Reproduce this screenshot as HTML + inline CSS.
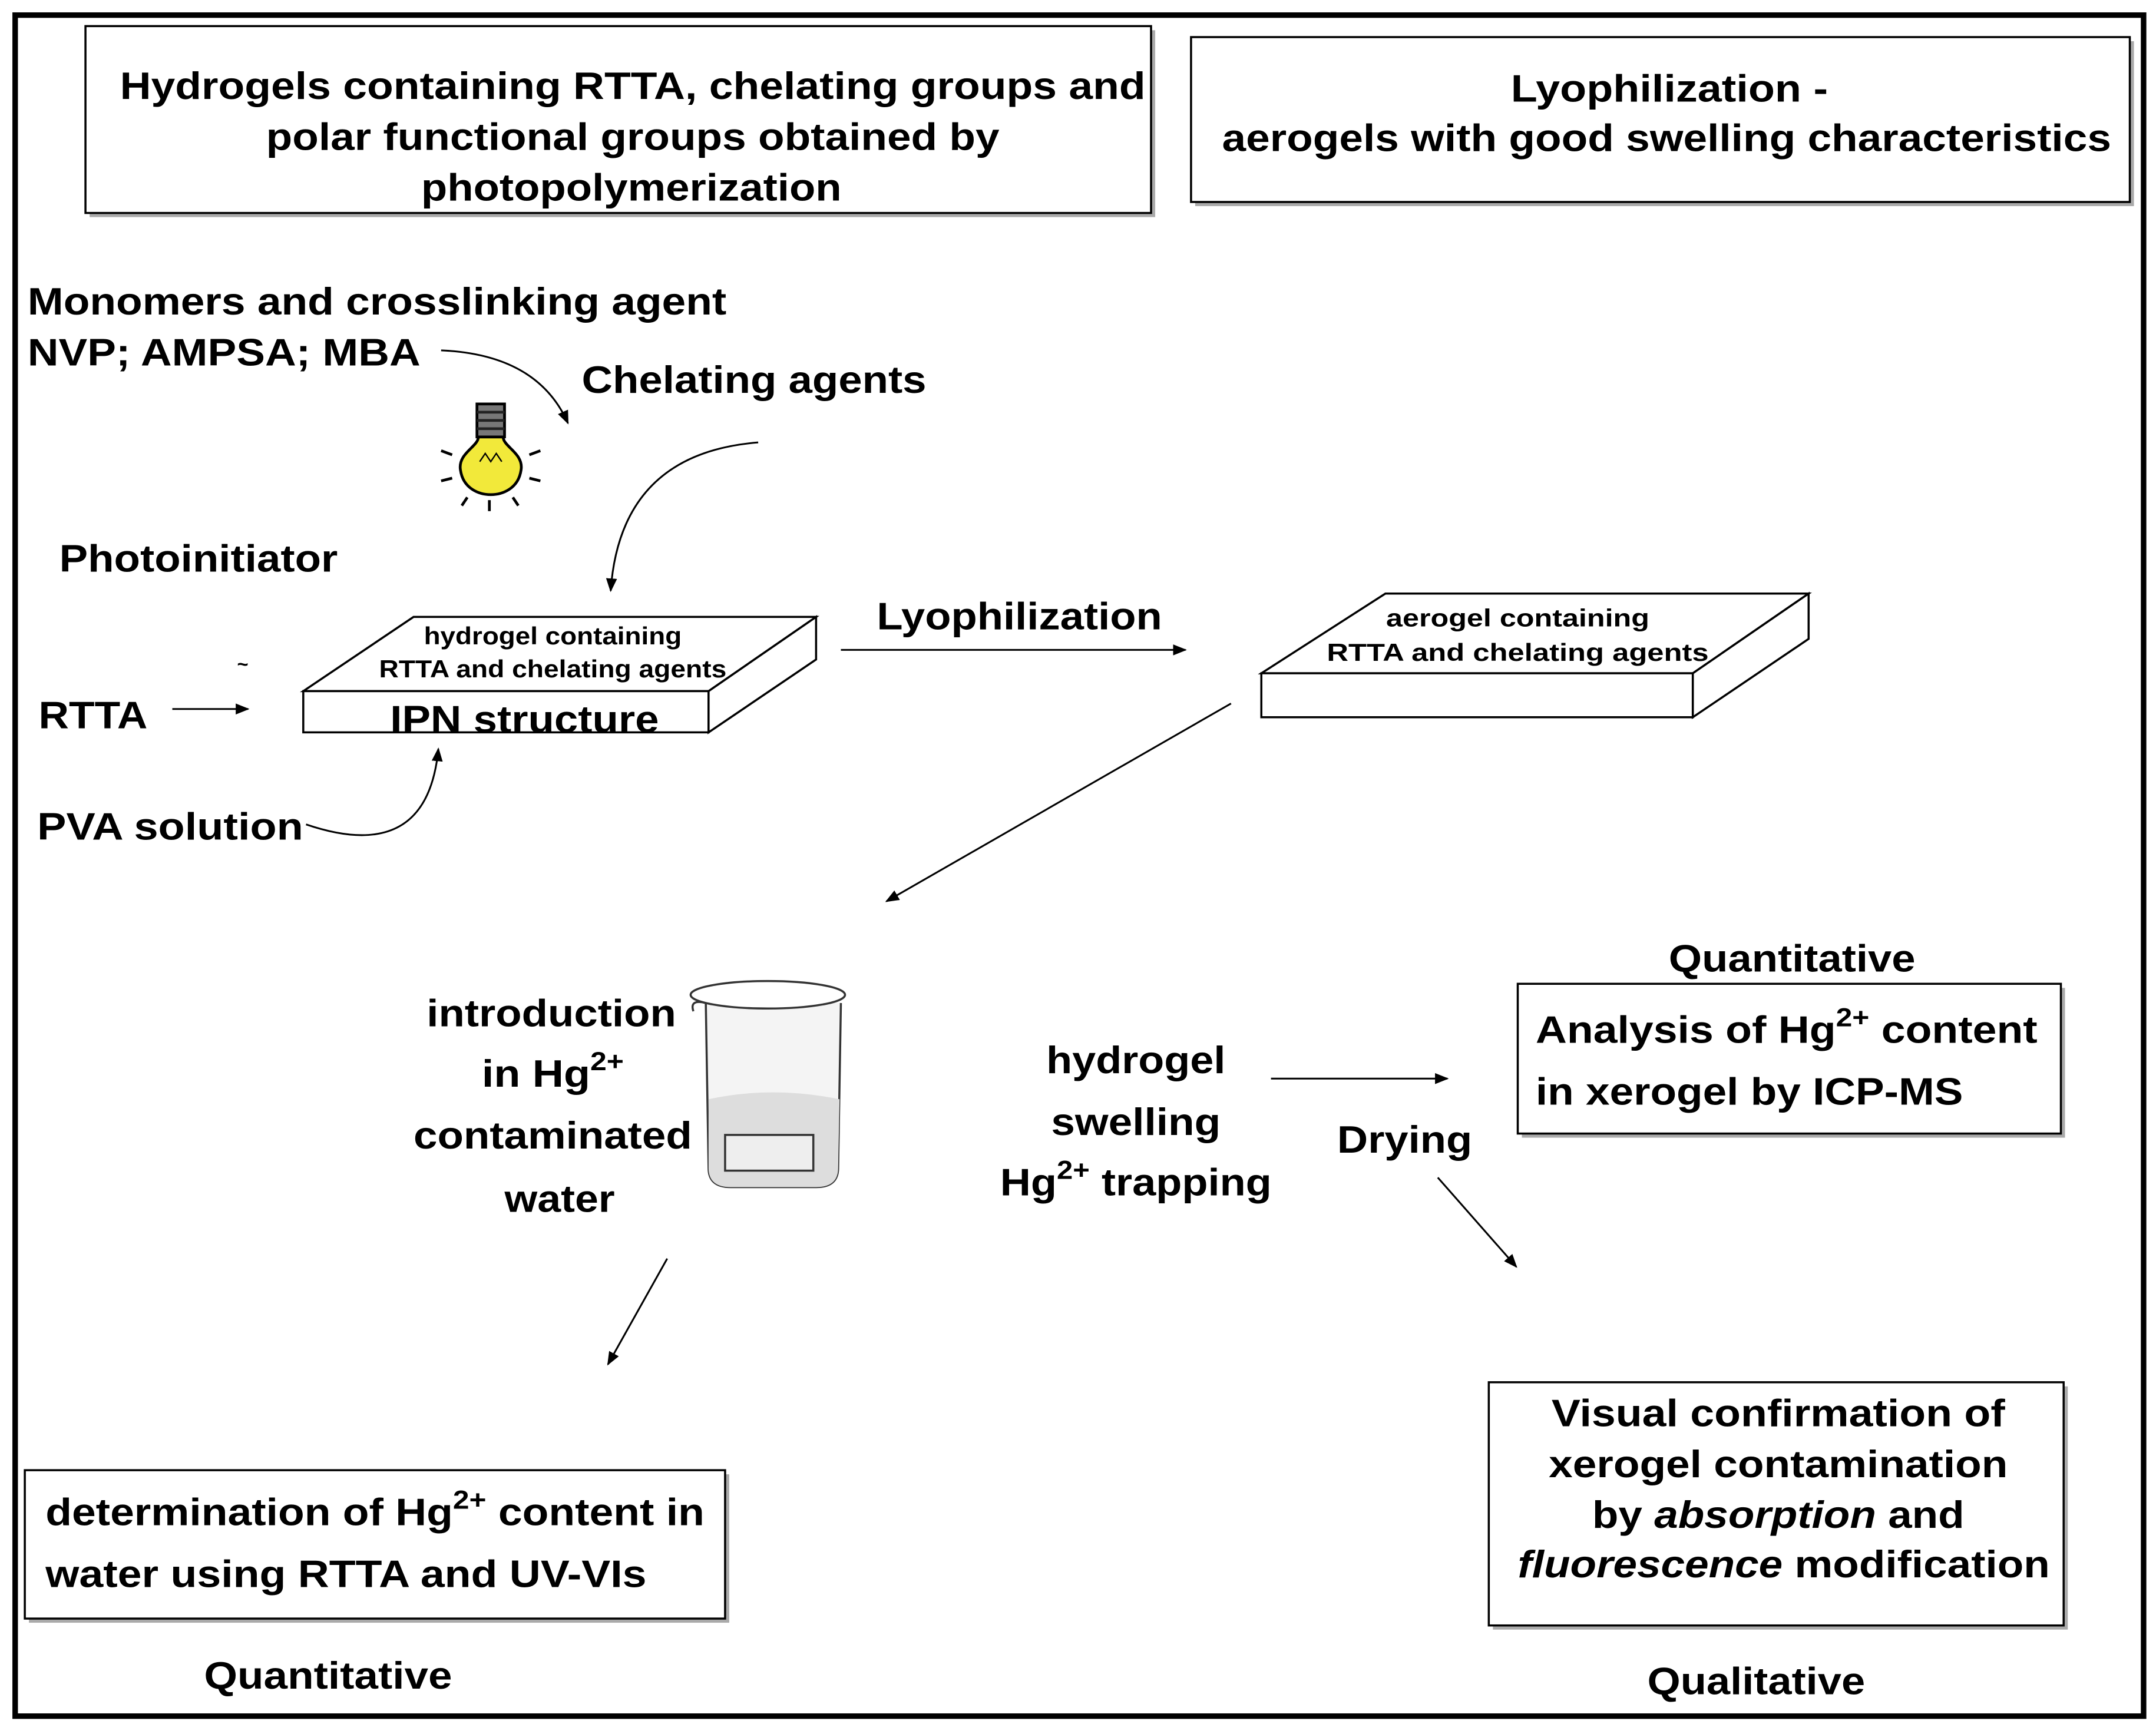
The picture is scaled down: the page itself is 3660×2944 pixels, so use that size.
<!DOCTYPE html>
<html><head><meta charset="utf-8">
<style>
html,body{margin:0;padding:0;background:#fff;}
svg{display:block;}
text{font-family:"Liberation Sans",Arial,sans-serif;font-weight:bold;fill:#000;}
</style></head>
<body>
<svg width="3660" height="2944" viewBox="0 0 1564 1262" preserveAspectRatio="none" xmlns="http://www.w3.org/2000/svg">
<defs>
<marker id="ah" markerWidth="10" markerHeight="8" refX="9" refY="4" orient="auto" markerUnits="userSpaceOnUse">
<path d="M0,0 L10,4 L0,8 Z" fill="#000"/>
</marker>
</defs>
<rect x="0" y="0" width="1564" height="1262" fill="#fff"/>
<rect x="11" y="11" width="1544" height="1238" fill="none" stroke="#000" stroke-width="4"/>

<!-- Box 1 -->
<rect x="65" y="22" width="773" height="136" fill="#aaa"/>
<rect x="62" y="19" width="773" height="136" fill="#fff" stroke="#000" stroke-width="1.5"/>
<g font-size="28" text-anchor="middle" lengthAdjust="spacingAndGlyphs">
<text x="459" y="72" textLength="744" lengthAdjust="spacingAndGlyphs">Hydrogels containing RTTA, chelating groups and</text>
<text x="459" y="109" textLength="532" lengthAdjust="spacingAndGlyphs">polar functional groups obtained by</text>
<text x="458" y="146" textLength="305" lengthAdjust="spacingAndGlyphs">photopolymerization</text>
</g>
<!-- Box 2 -->
<rect x="867" y="30" width="681" height="120" fill="#aaa"/>
<rect x="864" y="27" width="681" height="120" fill="#fff" stroke="#000" stroke-width="1.5"/>
<g font-size="28" text-anchor="middle">
<text x="1211" y="74" textLength="230" lengthAdjust="spacingAndGlyphs">Lyophilization -</text>
<text x="1209" y="110" textLength="645" lengthAdjust="spacingAndGlyphs">aerogels with good swelling characteristics</text>
</g>

<g font-size="28">
<text x="20" y="229" textLength="507" lengthAdjust="spacingAndGlyphs">Monomers and crosslinking agent</text>
<text x="20" y="266" textLength="285" lengthAdjust="spacingAndGlyphs">NVP; AMPSA; MBA</text>
<text x="422" y="286" textLength="250" lengthAdjust="spacingAndGlyphs">Chelating agents</text>
<text x="43" y="416" textLength="202" lengthAdjust="spacingAndGlyphs">Photoinitiator</text>
<text x="28" y="530" textLength="79" lengthAdjust="spacingAndGlyphs">RTTA</text>
<text x="27" y="611" textLength="193" lengthAdjust="spacingAndGlyphs">PVA solution</text>
<text x="636" y="458" textLength="207" lengthAdjust="spacingAndGlyphs">Lyophilization</text>
<text x="970" y="839" textLength="98" lengthAdjust="spacingAndGlyphs">Drying</text>
</g>
<path d="M320,255 Q390,258 412,308" fill="none" stroke="#000" stroke-width="1.3" marker-end="url(#ah)"/>
<path d="M550,322 Q450,330 443,430" fill="none" stroke="#000" stroke-width="1.3" marker-end="url(#ah)"/>
<path d="M222,600 Q310,630 318,545" fill="none" stroke="#000" stroke-width="1.3" marker-end="url(#ah)"/>
<line x1="125" y1="516" x2="180" y2="516" stroke="#000" stroke-width="1.3" marker-end="url(#ah)"/>
<text x="172" y="488" font-size="14">~</text>
<line x1="610" y1="473" x2="860" y2="473" stroke="#000" stroke-width="1.3" marker-end="url(#ah)"/>
<line x1="893" y1="512" x2="643" y2="656" stroke="#000" stroke-width="1.3" marker-end="url(#ah)"/>
<line x1="922" y1="785" x2="1050" y2="785" stroke="#000" stroke-width="1.3" marker-end="url(#ah)"/>
<line x1="1043" y1="857" x2="1100" y2="922" stroke="#000" stroke-width="1.3" marker-end="url(#ah)"/>
<line x1="484" y1="916" x2="441" y2="993" stroke="#000" stroke-width="1.3" marker-end="url(#ah)"/>

<!-- bulb -->
<g stroke="#000" stroke-width="2" fill="none">
<path d="M347,318 C347,325 332,330 334,342 C336,356 348,360 356,360 C364,360 376,356 378,342 C380,330 365,325 365,318 Z" fill="#f2e93a"/>
<rect x="346" y="294" width="20" height="24" fill="#777"/>
<line x1="346" y1="300" x2="366" y2="300" stroke="#222"/>
<line x1="346" y1="306" x2="366" y2="306" stroke="#222"/>
<line x1="346" y1="312" x2="366" y2="312" stroke="#222"/>
<path d="M348,336 l4,-6 l4,6 l4,-6 l4,6" stroke-width="1"/>
<line x1="320" y1="328" x2="328" y2="331"/><line x1="392" y1="328" x2="384" y2="331"/>
<line x1="320" y1="350" x2="328" y2="348"/><line x1="392" y1="350" x2="384" y2="348"/>
<line x1="335" y1="368" x2="339" y2="362"/><line x1="376" y1="368" x2="372" y2="362"/>
<line x1="355" y1="372" x2="355" y2="364"/>
</g>

<!-- slab 1 -->
<g stroke="#000" stroke-width="1.5" fill="#fff">
<polygon points="220,503 300,449 592,449 514,503"/>
<rect x="220" y="503" width="294" height="30"/>
<polygon points="514,503 592,449 592,480 514,533"/>
</g>
<g font-size="18" text-anchor="middle">
<text x="401" y="469" textLength="187" lengthAdjust="spacingAndGlyphs">hydrogel containing</text>
<text x="401" y="493" textLength="252" lengthAdjust="spacingAndGlyphs">RTTA and chelating agents</text>
</g>
<text x="283" y="533" font-size="28" textLength="195" lengthAdjust="spacingAndGlyphs">IPN structure</text>

<!-- slab 2 -->
<g stroke="#000" stroke-width="1.5" fill="#fff">
<polygon points="915,490 1005,432 1312,432 1228,490"/>
<rect x="915" y="490" width="313" height="32"/>
<polygon points="1228,490 1312,432 1312,465 1228,522"/>
</g>
<g font-size="18" text-anchor="middle">
<text x="1101" y="456" textLength="191" lengthAdjust="spacingAndGlyphs">aerogel containing</text>
<text x="1101" y="481" textLength="277" lengthAdjust="spacingAndGlyphs">RTTA and chelating agents</text>
</g>

<!-- beaker -->
<g stroke="#333" stroke-width="1.5">
<path d="M512,730 L514,850 Q514,864 530,864 L592,864 Q608,864 608,850 L610,730" fill="#f4f4f4"/>
<path d="M514,800 L514,850 Q514,864 530,864 L592,864 Q608,864 608,850 L609,800 Q560,790 514,800Z" fill="#ddd" stroke="none"/>
<ellipse cx="557" cy="724" rx="56" ry="10" fill="#fff"/>
<path d="M503,736 Q500,727 512,730" fill="none"/>
<rect x="526" y="826" width="64" height="26" fill="#eee"/>
</g>
<g font-size="28" text-anchor="middle">
<text x="400" y="747" textLength="181" lengthAdjust="spacingAndGlyphs">introduction</text>
<text x="401" y="791" textLength="103" lengthAdjust="spacingAndGlyphs">in Hg<tspan font-size="19" dy="-12">2+</tspan></text>
<text x="401" y="836" textLength="202" lengthAdjust="spacingAndGlyphs">contaminated</text>
<text x="406" y="882" textLength="80" lengthAdjust="spacingAndGlyphs">water</text>
<text x="824" y="781" textLength="130" lengthAdjust="spacingAndGlyphs">hydrogel</text>
<text x="824" y="826" textLength="123" lengthAdjust="spacingAndGlyphs">swelling</text>
<text x="824" y="870" textLength="197" lengthAdjust="spacingAndGlyphs">Hg<tspan font-size="19" dy="-12">2+</tspan><tspan dy="12"> trapping</tspan></text>
<text x="1300" y="707" textLength="179" lengthAdjust="spacingAndGlyphs">Quantitative</text>
<text x="238" y="1229" textLength="180" lengthAdjust="spacingAndGlyphs">Quantitative</text>
<text x="1274" y="1233" textLength="158" lengthAdjust="spacingAndGlyphs">Qualitative</text>
</g>

<!-- Box 3 -->
<rect x="1104" y="719" width="394" height="109" fill="#aaa"/>
<rect x="1101" y="716" width="394" height="109" fill="#fff" stroke="#000" stroke-width="1.5"/>
<g font-size="28">
<text x="1114" y="759" textLength="364" lengthAdjust="spacingAndGlyphs">Analysis of Hg<tspan font-size="19" dy="-12">2+</tspan><tspan dy="12"> content</tspan></text>
<text x="1114" y="804" textLength="310" lengthAdjust="spacingAndGlyphs">in xerogel by ICP-MS</text>
</g>
<!-- Box 4 -->
<rect x="21" y="1073" width="508" height="108" fill="#aaa"/>
<rect x="18" y="1070" width="508" height="108" fill="#fff" stroke="#000" stroke-width="1.5"/>
<g font-size="28">
<text x="33" y="1110" textLength="478" lengthAdjust="spacingAndGlyphs">determination of Hg<tspan font-size="19" dy="-12">2+</tspan><tspan dy="12"> content in</tspan></text>
<text x="33" y="1155" textLength="436" lengthAdjust="spacingAndGlyphs">water using RTTA and UV-VIs</text>
</g>
<!-- Box 5 -->
<rect x="1083" y="1009" width="417" height="177" fill="#aaa"/>
<rect x="1080" y="1006" width="417" height="177" fill="#fff" stroke="#000" stroke-width="1.5"/>
<g font-size="28" text-anchor="middle">
<text x="1290" y="1038" textLength="329" lengthAdjust="spacingAndGlyphs">Visual confirmation of</text>
<text x="1290" y="1075" textLength="333" lengthAdjust="spacingAndGlyphs">xerogel contamination</text>
<text x="1290" y="1112" textLength="270" lengthAdjust="spacingAndGlyphs">by <tspan font-style="italic">absorption</tspan> and</text>
<text x="1294" y="1148" textLength="386" lengthAdjust="spacingAndGlyphs"><tspan font-style="italic">fluorescence</tspan> modification</text>
</g>
</svg>
</body></html>
